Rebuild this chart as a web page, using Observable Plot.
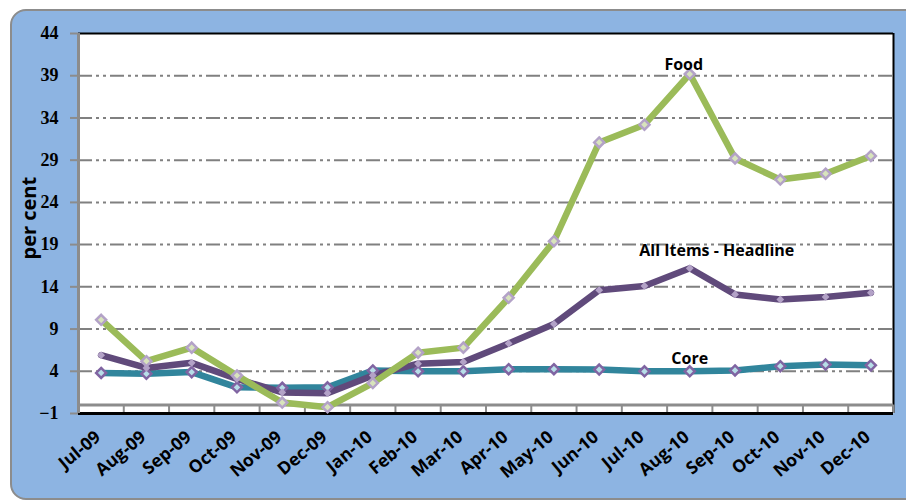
<!DOCTYPE html>
<html><head><meta charset="utf-8">
<script src="https://cdn.jsdelivr.net/npm/d3@7"></script>
<script src="https://cdn.jsdelivr.net/npm/@observablehq/plot@0.6"></script>
<style>
body{margin:0;background:#fff;}
#wrap{position:relative;width:906px;height:500px;overflow:hidden;}
#bg{position:absolute;left:10px;top:9px;width:940px;height:487px;background:#8DB4E2;border:2px solid #8C8C8C;border-radius:16px 0 0 16px;}
#chart{position:absolute;left:0;top:0;}
</style></head><body>
<div id="wrap"><div id="bg"></div><div id="chart"></div></div>
<script>
const months = ["Jul-09","Aug-09","Sep-09","Oct-09","Nov-09","Dec-09","Jan-10","Feb-10","Mar-10","Apr-10","May-10","Jun-10","Jul-10","Aug-10","Sep-10","Oct-10","Nov-10","Dec-10"];
const food     = [10.1, 5.2, 6.8, 3.5, 0.3, -0.25, 2.6, 6.2, 6.8, 12.7, 19.4, 31.1, 33.2, 39.2, 29.2, 26.7, 27.4, 29.5];
const headline = [5.9, 4.4, 5.0, 3.1, 1.5, 1.4, 3.5, 4.9, 5.1, 7.3, 9.6, 13.6, 14.1, 16.2, 13.1, 12.5, 12.8, 13.3];
const core     = [3.8, 3.7, 3.9, 2.1, 2.05, 2.1, 4.1, 4.0, 4.0, 4.25, 4.25, 4.2, 4.0, 4.0, 4.1, 4.6, 4.8, 4.7];
const yTickValues = [-1, 4, 9, 14, 19, 24, 29, 34, 39, 44];
const gridValues = [4, 9, 14, 19, 24, 29, 34, 39];
const yTitle = "per cent";
const seriesNames = ["Food", "All Items - Headline", "Core"];

const rows = months.map((m, i) => ({i, month: m, food: food[i], headline: headline[i], core: core[i]}));
const boundaries = d3.range(-0.5, months.length, 1);
const last = months.length - 0.5;

const labFont = "'Open Sans', sans-serif";

const chart = Plot.plot({
  width: 906,
  height: 500,
  marginLeft: 78,
  marginRight: 13,
  marginTop: 33,
  marginBottom: 87,
  style: {background: "transparent", overflow: "visible"},
  x: {domain: [-0.5, last], axis: null},
  y: {domain: [-1, 44], axis: null},
  marks: [
    Plot.frame({fill: "white", stroke: "none"}),
    Plot.gridY(gridValues, {stroke: "#808080", strokeOpacity: 1, strokeWidth: 2, strokeDasharray: "14,4,3,4,3,4"}),
    Plot.ruleY([44], {stroke: "black", strokeWidth: 2}),
    Plot.ruleX([last], {stroke: "black", strokeWidth: 2}),
    Plot.ruleY([0], {stroke: "#8C8C8C", strokeWidth: 3}),
    Plot.ruleX(boundaries, {y1: 0, y2: -1, stroke: "#8C8C8C", strokeWidth: 2}),
    Plot.ruleY([-1], {stroke: "black", strokeWidth: 3}),
    Plot.ruleX([-0.5], {stroke: "#8C8C8C", strokeWidth: 3}),
    Plot.axisY(yTickValues, {anchor: "left", tickSize: 8, tickPadding: 12, stroke: "#8C8C8C", strokeWidth: 2, fill: "black",
      fontSize: 18, fontWeight: "bold", fontFamily: "'Liberation Serif', serif", label: null}),
    Plot.line(rows, {x: "i", y: "core", stroke: "#31859C", strokeWidth: 6.5}),
    Plot.line(rows, {x: "i", y: "headline", stroke: "#604A7B", strokeWidth: 6.5}),
    Plot.line(rows, {x: "i", y: "food", stroke: "#9BBB59", strokeWidth: 6.5}),
    Plot.dot(rows, {x: "i", y: "core", symbol: "diamond2", r: 4.5, fill: "#B7DEE8", stroke: "#8064A2", strokeWidth: 2.5}),
    Plot.dot(rows, {x: "i", y: "headline", symbol: "diamond2", r: 3.5, fill: "#B3A2C7", stroke: "none"}),
    Plot.dot(rows, {x: "i", y: "food", symbol: "diamond2", r: 4.5, fill: "#D8E4BC", stroke: "#B3A2C7", strokeWidth: 2.5}),
    Plot.text(rows, {x: "i", y: () => -1, text: "month", rotate: -40, textAnchor: "end", dx: -3, dy: 21,
      fontSize: 17.5, fontWeight: "bold", fontFamily: labFont, fill: "black"}),
    Plot.text([seriesNames[0]], {x: () => months.indexOf("Aug-10"), y: () => 40.3, dx: -6, fontSize: 16, fontWeight: "bold", fontFamily: labFont, fill: "black"}),
    Plot.text([seriesNames[1]], {x: () => months.indexOf("Aug-10"), y: () => 18.2, dx: 27, fontSize: 16, fontWeight: "bold", fontFamily: labFont, fill: "black"}),
    Plot.text([seriesNames[2]], {x: () => months.indexOf("Aug-10"), y: () => 5.5, dx: 0, fontSize: 16, fontWeight: "bold", fontFamily: labFont, fill: "black"}),
    Plot.text([yTitle], {frameAnchor: "left", rotate: -90, dx: -49, dy: 36, fontSize: 20, fontWeight: "bold", fontFamily: labFont, fill: "black"})
  ]
});
document.getElementById("chart").appendChild(chart);
</script>
</body></html>
